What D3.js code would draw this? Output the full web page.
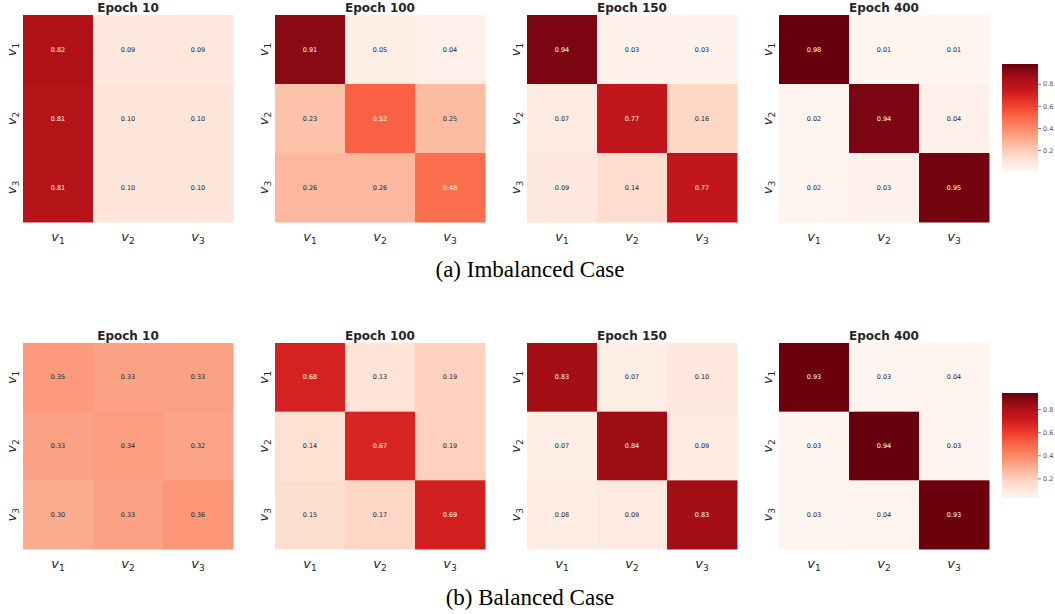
<!DOCTYPE html>
<html><head><meta charset="utf-8">
<script src="https://cdn.jsdelivr.net/npm/d3@7"></script>
<style>
body{margin:0;background:#fff;}
svg{display:block;}
</style></head>
<body><svg id="c" width="1055" height="614"></svg>
<script>
const labels = ["v1","v2","v3"];
const epochs = ["Epoch 10","Epoch 100","Epoch 150","Epoch 400"];
const captions = ["(a) Imbalanced Case","(b) Balanced Case"];
const cbTicks = [0.2,0.4,0.6,0.8];

const imb10  = [[0.82,0.09,0.09],[0.81,0.10,0.10],[0.81,0.10,0.10]];
const imb100 = [[0.91,0.05,0.04],[0.23,0.52,0.25],[0.26,0.26,0.48]];
const imb150 = [[0.94,0.03,0.03],[0.07,0.77,0.16],[0.09,0.14,0.77]];
const imb400 = [[0.98,0.01,0.01],[0.02,0.94,0.04],[0.02,0.03,0.95]];
const bal10  = [[0.35,0.33,0.33],[0.33,0.34,0.32],[0.30,0.33,0.36]];
const bal100 = [[0.68,0.13,0.19],[0.14,0.67,0.19],[0.15,0.17,0.69]];
const bal150 = [[0.83,0.07,0.10],[0.07,0.84,0.09],[0.08,0.09,0.83]];
const bal400 = [[0.93,0.03,0.04],[0.03,0.94,0.03],[0.03,0.04,0.93]];

const rows = [
  {mats:[imb10,imb100,imb150,imb400], top:15, h:207, caption:captions[0], capY:277},
  {mats:[bal10,bal100,bal150,bal400], top:343, h:206, caption:captions[1], capY:605}
];

const svg = d3.select("#c");
const panelX0 = 23, panelW = 210, panelStep = 252;
const reds = d3.schemeReds[9];

function lum(c){
  const rgb = d3.rgb(c);
  const f = v => { v/=255; return v<=0.03928 ? v/12.92 : Math.pow((v+0.055)/1.055,2.4); };
  return 0.2126*f(rgb.r)+0.7152*f(rgb.g)+0.0722*f(rgb.b);
}

function sub(sel, name){
  sel.append("tspan").attr("font-style","italic").text(name[0]);
  sel.append("tspan").attr("font-size","0.7em").attr("dy","0.3em").text(name.slice(1));
}

rows.forEach((row, ri) => {
  const all = row.mats.flat(2);
  const vmin = d3.min(all), vmax = d3.max(all);
  const color = d3.scaleLinear()
    .domain(d3.range(9).map(i => vmin + (vmax-vmin)*i/8))
    .range(reds).interpolate(d3.interpolateRgb).clamp(true);

  row.mats.forEach((m, pi) => {
    const x0 = panelX0 + pi*panelStep;
    const g = svg.append("g").attr("transform", `translate(${x0},${row.top})`);
    const xs = d3.scaleBand().domain(labels).range([0, panelW]);
    const ys = d3.scaleBand().domain(labels).range([0, row.h]);
    const cells = [];
    m.forEach((r, i) => r.forEach((v, j) => cells.push({i, j, v})));
    g.selectAll("rect.cell").data(cells).enter().append("rect")
      .attr("x", d => xs(labels[d.j])).attr("y", d => ys(labels[d.i]))
      .attr("width", xs.bandwidth()+0.5).attr("height", ys.bandwidth()+0.5)
      .attr("fill", d => color(d.v));
    g.selectAll("text.ann").data(cells).enter().append("text")
      .attr("x", d => xs(labels[d.j]) + xs.bandwidth()/2)
      .attr("y", d => ys(labels[d.i]) + ys.bandwidth()/2)
      .attr("text-anchor","middle").attr("dominant-baseline","central")
      .attr("font-family","DejaVu Sans").attr("font-size","6.5px")
      .attr("fill", d => lum(color(d.v)) > 0.408 ? "#262626" : "#ffffff")
      .text(d => d3.format(".2f")(d.v));
    // title
    g.append("text").attr("x", panelW/2).attr("y", -3)
      .attr("text-anchor","middle").attr("font-family","DejaVu Sans")
      .attr("font-weight","bold").attr("font-size","12px").attr("fill","#262626")
      .text(epochs[pi]);
    // x labels
    labels.forEach(l => {
      const t = g.append("text").attr("x", xs(l)+xs.bandwidth()/2).attr("y", row.h+19)
        .attr("text-anchor","middle").attr("font-family","DejaVu Sans")
        .attr("font-size","13px").attr("fill","#262626");
      sub(t, l);
    });
    // y labels
    labels.forEach(l => {
      const t = g.append("text")
        .attr("transform", `translate(-7,${ys(l)+ys.bandwidth()/2}) rotate(-90)`)
        .attr("text-anchor","middle").attr("font-family","DejaVu Sans")
        .attr("font-size","13px").attr("fill","#262626");
      sub(t, l);
    });
  });

  // colorbar
  const cbX = 1002, cbW = 36;
  const cbTop = ri === 0 ? 64 : 393, cbBot = ri === 0 ? 171 : 498;
  const cy = d3.scaleLinear().domain([vmin, vmax]).range([cbBot, cbTop]);
  const gid = "grad"+ri;
  const grad = svg.append("defs").append("linearGradient").attr("id", gid)
    .attr("x1","0").attr("y1","1").attr("x2","0").attr("y2","0");
  d3.range(0, 1.0001, 0.05).forEach(t => {
    grad.append("stop").attr("offset", t).attr("stop-color", color(vmin + t*(vmax-vmin)));
  });
  svg.append("rect").attr("x", cbX).attr("y", cbTop).attr("width", cbW)
    .attr("height", cbBot-cbTop).attr("fill", `url(#${gid})`);
  const ax = svg.append("g").attr("transform", `translate(${cbX+cbW},0)`)
    .call(d3.axisRight(cy).tickValues(cbTicks).tickSize(3).tickPadding(2).tickFormat(d3.format(".1f")));
  ax.select(".domain").remove();
  ax.selectAll(".tick line").attr("stroke","#555").attr("stroke-width",0.8);
  ax.selectAll("text").attr("font-family","DejaVu Sans").attr("font-size","6.5px").attr("fill","#555");

  // caption
  svg.append("text").attr("x", 530).attr("y", row.capY).attr("text-anchor","middle")
    .attr("font-family","Liberation Serif").attr("font-size","23px").attr("fill","#000")
    .text(row.caption);
});
</script></body></html>
